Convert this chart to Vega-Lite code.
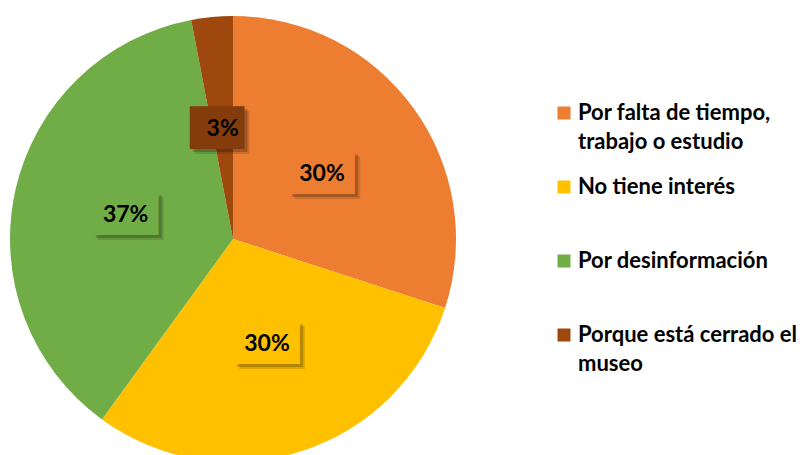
{
  "$schema": "https://vega.github.io/schema/vega-lite/v6.json",
  "width": 466,
  "height": 432,
  "autosize": "none",
  "padding": {"left": 0, "top": 23, "right": 340, "bottom": 0},
  "background": "white",
  "config": {"view": {"stroke": null}, "font": "Lato"},
  "data": {
    "values": [
      {"label": "Por falta de tiempo, trabajo o estudio", "value": 30, "pct": "30%", "order": 1},
      {"label": "No tiene interés", "value": 30, "pct": "30%", "order": 2},
      {"label": "Por desinformación", "value": 37, "pct": "37%", "order": 3},
      {"label": "Porque está cerrado el museo", "value": 3, "pct": "3%", "order": 4}
    ]
  },
  "encoding": {
    "theta": {"field": "value", "type": "quantitative", "stack": true},
    "order": {"field": "order", "type": "quantitative", "sort": "ascending"}
  },
  "layer": [
    {
      "mark": {"type": "arc", "outerRadius": 223},
      "encoding": {
        "color": {
          "field": "label",
          "type": "nominal",
          "scale": {
            "domain": ["Por falta de tiempo, trabajo o estudio", "No tiene interés", "Por desinformación", "Porque está cerrado el museo"],
            "range": ["#ED7D31", "#FFC000", "#70AD47", "#9E480E"]
          },
          "legend": {
            "orient": "none",
            "legendX": 553,
            "legendY": 79,
            "title": null,
            "padding": 0,
            "symbolType": "square",
            "symbolSize": 169,
            "symbolStrokeWidth": 0,
            "labelFont": "Lato",
            "labelFontSize": 22,
            "labelFontWeight": "bold",
            "labelColor": "#000000",
            "labelLimit": 400,
            "labelOffset": 3,
            "rowPadding": 23,
            "gridAlign": "all",
            "labelBaseline": "middle",
            "labelExpr": "datum.label == 'Por falta de tiempo, trabajo o estudio' ? ['Por falta de tiempo,', 'trabajo o estudio'] : datum.label == 'Porque está cerrado el museo' ? ['Porque está cerrado el', 'museo'] : datum.label",
            "encode": {"labels": {"update": {"lineHeight": {"value": 29}}}}
          }
        }
      }
    },
    {
      "mark": {"type": "text", "font": "DejaVu Sans Mono", "fontSize": 36, "dx": 5, "dy": 5, "fill": "#000000", "opacity": 0.12, "align": "center", "baseline": "middle"},
      "encoding": {
        "radius": {"value": 110},
        "detail": {"field": "label"},
        "text": {"condition": {"test": "datum.value < 10", "value": "██▌"}, "value": "███"}
      }
    },
    {
      "mark": {"type": "text", "font": "DejaVu Sans Mono", "fontSize": 36, "dx": 3, "dy": 3, "fill": "#000000", "opacity": 0.2, "align": "center", "baseline": "middle"},
      "encoding": {
        "radius": {"value": 110},
        "detail": {"field": "label"},
        "text": {"condition": {"test": "datum.value < 10", "value": "██▌"}, "value": "███"}
      }
    },
    {
      "mark": {"type": "text", "font": "DejaVu Sans Mono", "fontSize": 36, "align": "center", "baseline": "middle"},
      "encoding": {
        "radius": {"value": 110},
        "detail": {"field": "label"},
        "color": {"condition": {"test": "datum.value < 10", "value": "#843C0C"}, "field": "label", "type": "nominal", "legend": null},
        "text": {"condition": {"test": "datum.value < 10", "value": "██▌"}, "value": "███"}
      }
    },
    {
      "mark": {"type": "text", "font": "Lato", "fontSize": 23, "fontWeight": "bold", "fill": "#000000", "align": "center", "baseline": "middle"},
      "encoding": {
        "radius": {"value": 110},
        "detail": {"field": "label"},
        "text": {"field": "pct"}
      }
    }
  ]
}
